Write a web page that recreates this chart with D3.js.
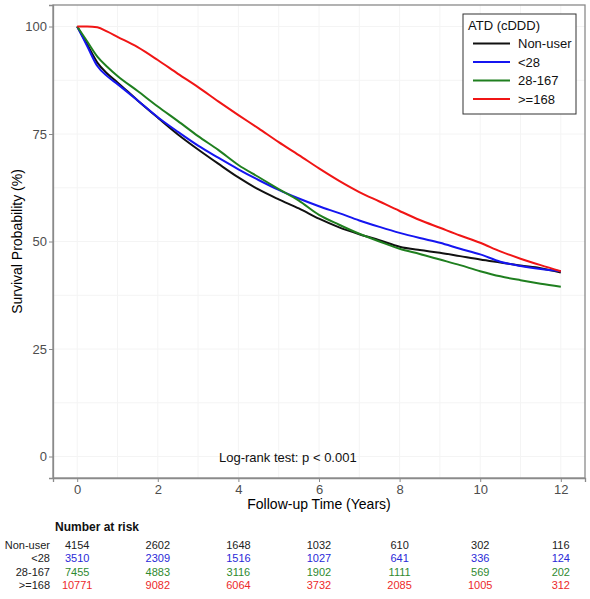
<!DOCTYPE html>
<html>
<head>
<meta charset="utf-8">
<script src="https://cdn.jsdelivr.net/npm/d3@7"></script>
<style>
  html, body { margin: 0; padding: 0; background: #fff; }
  svg { display: block; font-family: "Liberation Sans", Arial, sans-serif; }
</style>
</head>
<body>
<svg id="chart" width="590" height="599"></svg>
<script>
// ---- data ----
const times = [0, 0.25, 0.5, 0.75, 1, 1.5, 2, 2.5, 3, 3.5, 4, 4.5, 5, 5.5, 6, 6.5, 7, 7.5, 8, 8.5, 9, 9.5, 10, 10.5, 11, 11.5, 12];
const nonUser = [100, 95.8, 91.6, 89.0, 87.0, 82.8, 78.8, 74.9, 71.4, 68.1, 64.9, 62.1, 59.8, 57.7, 55.3, 53.3, 51.7, 50.3, 48.8, 48.0, 47.4, 46.6, 45.8, 45.1, 44.4, 43.8, 42.8];
const lt28 = [100, 95.4, 90.8, 88.4, 86.6, 82.8, 78.9, 75.5, 72.3, 69.5, 66.8, 64.3, 62.0, 60.0, 58.2, 56.6, 54.9, 53.4, 52.0, 50.8, 49.7, 48.3, 47.0, 45.3, 44.3, 43.6, 43.1];
const mid = [100, 96.5, 93.0, 90.6, 88.5, 85.0, 81.4, 78.0, 74.5, 71.3, 67.8, 65.0, 62.2, 59.5, 56.2, 53.9, 51.8, 50.0, 48.3, 47.1, 45.8, 44.5, 43.1, 41.9, 41.0, 40.2, 39.5];
const high = [100, 100, 99.8, 98.8, 97.6, 95.2, 92.2, 89.0, 85.9, 82.6, 79.4, 76.3, 73.1, 70.1, 67.0, 64.1, 61.5, 59.3, 57.1, 55.0, 53.2, 51.4, 49.7, 47.7, 46.0, 44.5, 43.1];

const groups = ["Non-user", "<28", "28-167", ">=168"];
const lineColors = ["#111111", "#1515f0", "#1f7f1f", "#f01515"];
const tableColors = ["#222222", "#2a2ad8", "#2f8a2f", "#ec2a2a"];

const xTicks = [0, 2, 4, 6, 8, 10, 12];
const yTicks = [0, 25, 50, 75, 100];

const riskNonUser = [4154, 2602, 1648, 1032, 610, 302, 116];
const riskLt28 = [3510, 2309, 1516, 1027, 641, 336, 124];
const riskMid = [7455, 4883, 3116, 1902, 1111, 569, 202];
const riskHigh = [10771, 9082, 6064, 3732, 2085, 1005, 312];

// ---- layout ----
const svg = d3.select("#chart");
const panel = { left: 53, right: 585, top: 5, bottom: 478 };

const x = d3.scaleLinear().domain([-0.6, 12.6]).range([panel.left, panel.right]);
const y = d3.scaleLinear().domain([-5, 105]).range([panel.bottom, panel.top]);

// faint gridlines
const g = svg.append("g");
d3.range(0, 13, 1).forEach(t => {
  g.append("line").attr("x1", x(t)).attr("x2", x(t)).attr("y1", panel.top).attr("y2", panel.bottom)
    .attr("stroke", "#f4f4f4").attr("stroke-width", 1);
});
d3.range(0, 101, 12.5).forEach(v => {
  g.append("line").attr("x1", panel.left).attr("x2", panel.right).attr("y1", y(v)).attr("y2", y(v))
    .attr("stroke", "#f4f4f4").attr("stroke-width", 1);
});

// panel border
svg.append("rect")
  .attr("x", panel.left).attr("y", panel.top)
  .attr("width", panel.right - panel.left).attr("height", panel.bottom - panel.top)
  .attr("fill", "none").attr("stroke", "#8a8a8a").attr("stroke-width", 1.3);

// axes
const xAxis = svg.append("g").attr("transform", `translate(0,${panel.bottom})`)
  .call(d3.axisBottom(x).tickValues(xTicks).tickSize(4).tickPadding(3).tickFormat(d3.format("d")));
const yAxis = svg.append("g").attr("transform", `translate(${panel.left},0)`)
  .call(d3.axisLeft(y).tickValues(yTicks).tickSize(4).tickPadding(2).tickFormat(d3.format("d")));
[xAxis, yAxis].forEach(a => {
  a.select(".domain").attr("stroke", "#8a8a8a").attr("stroke-width", 1.3);
  a.selectAll(".tick line").attr("stroke", "#8a8a8a").attr("stroke-width", 1);
  a.selectAll(".tick text").attr("fill", "#4d4d4d").style("font-size", "13px")
    .style("font-family", "'Liberation Sans', Arial, sans-serif");
});

// axis titles
svg.append("text").attr("x", (panel.left + panel.right) / 2).attr("y", 509)
  .attr("text-anchor", "middle").style("font-size", "14px").attr("fill", "#000")
  .text("Follow-up Time (Years)");
svg.append("text").attr("transform", `translate(22,${(panel.top + panel.bottom) / 2}) rotate(-90)`)
  .attr("text-anchor", "middle").style("font-size", "14px").attr("fill", "#000")
  .text("Survival Probability (%)");

// curves
const series = [nonUser, lt28, mid, high];
const line = d3.line().x((d, i) => x(times[i])).y(d => y(d)).curve(d3.curveMonotoneX);
series.forEach((s, k) => {
  svg.append("path").datum(s).attr("d", line)
    .attr("fill", "none").attr("stroke", lineColors[k]).attr("stroke-width", 2)
    .attr("stroke-linejoin", "round");
});

// log-rank annotation
svg.append("text").attr("x", 219).attr("y", 462).style("font-size", "13px").attr("fill", "#111")
  .text("Log-rank test: p < 0.001");

// legend
const lg = svg.append("g");
lg.append("rect").attr("x", 463).attr("y", 14).attr("width", 113).attr("height", 100)
  .attr("fill", "#fff").attr("stroke", "#333").attr("stroke-width", 1);
lg.append("text").attr("x", 468).attr("y", 30).style("font-size", "13px").attr("fill", "#111")
  .text("ATD (cDDD)");
groups.forEach((name, i) => {
  const cy = 43.5 + i * 18.5;
  lg.append("line").attr("x1", 473).attr("x2", 510).attr("y1", cy).attr("y2", cy)
    .attr("stroke", lineColors[i]).attr("stroke-width", 2);
  lg.append("text").attr("x", 518).attr("y", cy).attr("dy", "0.35em")
    .style("font-size", "13px").attr("fill", "#111").text(name);
});

// risk table
svg.append("text").attr("x", 55).attr("y", 531).style("font-size", "12px")
  .style("font-weight", "bold").attr("fill", "#111").text("Number at risk");
const riskRows = [riskNonUser, riskLt28, riskMid, riskHigh];
riskRows.forEach((row, i) => {
  const by = 549 + i * 13.3;
  svg.append("text").attr("x", 50).attr("y", by).attr("text-anchor", "end")
    .style("font-size", "11px").attr("fill", "#222").text(groups[i]);
  row.forEach((v, j) => {
    svg.append("text").attr("x", x(xTicks[j])).attr("y", by).attr("text-anchor", "middle")
      .style("font-size", "11px").attr("fill", tableColors[i]).text(v);
  });
});
</script>
</body>
</html>
